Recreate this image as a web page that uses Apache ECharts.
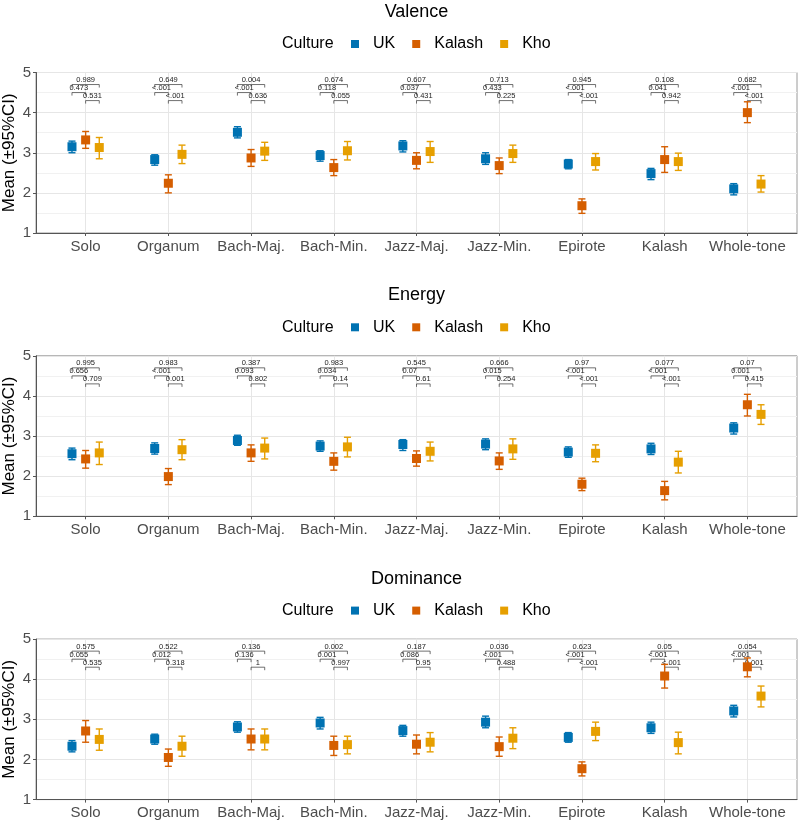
<!DOCTYPE html>
<html>
<head>
<meta charset="utf-8">
<script src="https://cdn.jsdelivr.net/npm/echarts@6/dist/echarts.min.js"></script>
<style>
  html, body { margin: 0; padding: 0; background: #fff; }
  #main { width: 800px; height: 823px; }
</style>
</head>
<body>
<div id="main"></div>
<script type="text/javascript">
// categories and groups
var categories = ['Solo', 'Organum', 'Bach-Maj.', 'Bach-Min.', 'Jazz-Maj.', 'Jazz-Min.', 'Epirote', 'Kalash', 'Whole-tone'];
var cultures = ['UK', 'Kalash', 'Kho'];
var panelNames = ['Valence', 'Energy', 'Dominance'];

// Valence
var valenceUKMean = [3.15, 2.83, 3.51, 2.93, 3.17, 2.85, 2.72, 2.48, 2.10];
var valenceUKLow = [3.00, 2.69, 3.37, 2.79, 3.02, 2.71, 2.60, 2.33, 1.95];
var valenceUKHigh = [3.29, 2.95, 3.65, 3.05, 3.30, 3.00, 2.83, 2.61, 2.23];
var valenceKalashMean = [3.32, 2.24, 2.87, 2.63, 2.81, 2.68, 1.68, 2.83, 4.00];
var valenceKalashLow = [3.11, 2.00, 2.66, 2.43, 2.60, 2.48, 1.49, 2.51, 3.75];
var valenceKalashHigh = [3.53, 2.45, 3.08, 2.83, 3.00, 2.87, 1.85, 3.15, 4.27];
var valenceKhoMean = [3.13, 2.96, 3.04, 3.05, 3.03, 2.98, 2.78, 2.78, 2.22];
var valenceKhoLow = [2.85, 2.73, 2.81, 2.82, 2.76, 2.76, 2.57, 2.56, 2.02];
var valenceKhoHigh = [3.38, 3.19, 3.26, 3.28, 3.28, 3.19, 2.98, 2.99, 2.43];

// Energy
var energyUKMean = [2.56, 2.69, 2.89, 2.75, 2.79, 2.80, 2.60, 2.68, 3.20];
var energyUKLow = [2.41, 2.55, 2.77, 2.62, 2.64, 2.66, 2.47, 2.54, 3.05];
var energyUKHigh = [2.70, 2.83, 3.02, 2.88, 2.91, 2.93, 2.73, 2.82, 3.33];
var energyKalashMean = [2.43, 1.99, 2.58, 2.37, 2.44, 2.38, 1.80, 1.64, 3.78];
var energyKalashLow = [2.20, 1.79, 2.37, 2.15, 2.25, 2.17, 1.64, 1.41, 3.50];
var energyKalashHigh = [2.64, 2.19, 2.78, 2.58, 2.63, 2.58, 1.95, 1.87, 4.04];
var energyKhoMean = [2.58, 2.66, 2.70, 2.73, 2.62, 2.68, 2.57, 2.35, 3.54];
var energyKhoLow = [2.29, 2.41, 2.43, 2.48, 2.38, 2.42, 2.36, 2.08, 3.29];
var energyKhoHigh = [2.85, 2.91, 2.95, 2.97, 2.85, 2.93, 2.78, 2.62, 3.78];

// Dominance
var dominanceUKMean = [2.33, 2.51, 2.81, 2.91, 2.72, 2.93, 2.55, 2.79, 3.21];
var dominanceUKLow = [2.19, 2.38, 2.68, 2.76, 2.58, 2.79, 2.43, 2.65, 3.06];
var dominanceUKHigh = [2.47, 2.63, 2.94, 3.05, 2.85, 3.08, 2.67, 2.93, 3.35];
var dominanceKalashMean = [2.71, 2.05, 2.51, 2.35, 2.38, 2.32, 1.77, 4.08, 4.31];
var dominanceKalashLow = [2.43, 1.83, 2.24, 2.10, 2.14, 2.08, 1.59, 3.78, 4.06];
var dominanceKalashHigh = [2.97, 2.26, 2.76, 2.58, 2.61, 2.56, 1.94, 4.37, 4.53];
var dominanceKhoMean = [2.50, 2.33, 2.51, 2.37, 2.43, 2.53, 2.70, 2.42, 3.58];
var dominanceKhoLow = [2.23, 2.08, 2.24, 2.14, 2.19, 2.27, 2.47, 2.14, 3.31];
var dominanceKhoHigh = [2.76, 2.58, 2.76, 2.58, 2.67, 2.79, 2.93, 2.68, 3.83];

// p-values: UK vs Kho (top), UK vs Kalash (middle), Kalash vs Kho (bottom)
var valencePUKKho = ['0.989', '0.649', '0.004', '0.674', '0.607', '0.713', '0.945', '0.108', '0.682'];
var valencePUKKalash = ['0.473', '<.001', '<.001', '0.118', '0.037', '0.433', '<.001', '0.041', '<.001'];
var valencePKalashKho = ['0.531', '<.001', '0.636', '0.055', '0.431', '0.225', '<.001', '0.942', '<.001'];
var energyPUKKho = ['0.995', '0.983', '0.387', '0.983', '0.545', '0.666', '0.97', '0.077', '0.07'];
var energyPUKKalash = ['0.656', '<.001', '0.093', '0.034', '0.07', '0.015', '<.001', '<.001', '0.001'];
var energyPKalashKho = ['0.709', '0.001', '0.802', '0.14', '0.61', '0.254', '<.001', '<.001', '0.415'];
var dominancePUKKho = ['0.575', '0.522', '0.136', '0.002', '0.187', '0.036', '0.623', '0.05', '0.054'];
var dominancePUKKalash = ['0.055', '0.012', '0.136', '0.001', '0.086', '<.001', '<.001', '<.001', '<.001'];
var dominancePKalashKho = ['0.535', '0.318', '1', '0.997', '0.95', '0.488', '<.001', '<.001', '0.001'];

var yTicks = [1, 2, 3, 4, 5];

var colors = ['#0072B2', '#D55E00', '#E69F00'];
var dodge = [-0.165, 0, 0.165];
var bracketY = [4.70, 4.50, 4.30];
var bracketPairs = [[0, 2], [0, 1], [1, 2]];
var fontFamily = '"Liberation Sans", Arial, Helvetica, sans-serif';

var panels = [
    { means: [valenceUKMean, valenceKalashMean, valenceKhoMean], lows: [valenceUKLow, valenceKalashLow, valenceKhoLow], highs: [valenceUKHigh, valenceKalashHigh, valenceKhoHigh], pvals: [valencePUKKho, valencePUKKalash, valencePKalashKho] },
    { means: [energyUKMean, energyKalashMean, energyKhoMean], lows: [energyUKLow, energyKalashLow, energyKhoLow], highs: [energyUKHigh, energyKalashHigh, energyKhoHigh], pvals: [energyPUKKho, energyPUKKalash, energyPKalashKho] },
    { means: [dominanceUKMean, dominanceKalashMean, dominanceKhoMean], lows: [dominanceUKLow, dominanceKalashLow, dominanceKhoLow], highs: [dominanceUKHigh, dominanceKalashHigh, dominanceKhoHigh], pvals: [dominancePUKKho, dominancePUKKalash, dominancePKalashKho] }
];

var panelStep = 283.3;
var catTicks = categories.map(function (c, i) { return i + 1; });

var titles = [], legends = [], grids = [], xAxes = [], yAxes = [], series = [];

panels.forEach(function (p, k) {
    var off = k * panelStep;
    titles.push({
        text: panelNames[k], left: 416.5, top: 3 + off, textAlign: 'center', padding: 0,
        textStyle: { fontFamily: fontFamily, fontSize: 18, fontWeight: 'normal', color: '#000' }
    });
    titles.push({
        text: 'Culture', left: 282, top: 36 + off, padding: 0,
        textStyle: { fontFamily: fontFamily, fontSize: 16, fontWeight: 'normal', color: '#000' }
    });
    legends.push({
        data: cultures, left: 351, top: 36 + off, padding: 0,
        icon: 'rect', itemWidth: 8, itemHeight: 8, itemGap: 17,
        selectedMode: false,
        textStyle: { fontFamily: fontFamily, fontSize: 16, color: '#000', padding: [0, 0, 0, 9] }
    });
    grids.push({
        left: 36, right: 3, top: 72.5 + off, height: 160.5,
        containLabel: false, outerBoundsMode: 'none',
        show: true, borderColor: '#9a9a9a', borderWidth: 1
    });
    xAxes.push({
        type: 'value', gridIndex: k, min: 0.4, max: 9.6,
        axisLine: { lineStyle: { color: '#555', width: 1 } },
        axisTick: { customValues: catTicks, length: 3, lineStyle: { color: '#555' } },
        axisLabel: {
            customValues: catTicks, margin: 6, color: '#4d4d4d', fontSize: 15, fontFamily: fontFamily,
            formatter: function (v) { return categories[Math.round(v) - 1] || ''; }
        },
        splitLine: { show: true, lineStyle: { color: '#e6e6e6', width: 1 } }
    });
    yAxes.push({
        type: 'value', gridIndex: k, min: 1, max: 5, interval: 1,
        name: 'Mean (\u00b195%CI)', nameLocation: 'middle', nameRotate: 90, nameGap: 18,
        nameMoveOverlap: false,
        nameTextStyle: { fontFamily: fontFamily, fontSize: 17, color: '#000' },
        axisLine: { show: true, lineStyle: { color: '#555', width: 1 } },
        axisTick: { show: true, length: 3, lineStyle: { color: '#555' } },
        axisLabel: { color: '#4d4d4d', fontSize: 15, fontFamily: fontFamily, margin: 5,
            customValues: yTicks },
        splitLine: { lineStyle: { color: '#e6e6e6', width: 1 } },
        minorTick: { show: false, splitNumber: 2 },
        minorSplitLine: { show: true, lineStyle: { color: '#f1f1f1', width: 1 } }
    });

    // significance brackets
    var bracketData = [];
    var bracketLabels = [];
    categories.forEach(function (c, i) {
        for (var b = 0; b < 3; b++) {
            bracketData.push([i + 1, bracketY[b], b]);
            bracketLabels.push(p.pvals[b][i]);
        }
    });
    series.push({
        name: 'brackets' + k, type: 'custom', xAxisIndex: k, yAxisIndex: k,
        silent: true, z: 3, encode: { x: 0, y: 1 },
        data: bracketData,
        renderItem: function (params, api) {
            var cx = api.value(0), y = api.value(1), b = api.value(2);
            var pair = bracketPairs[b];
            var a = api.coord([cx + dodge[pair[0]], y]);
            var e = api.coord([cx + dodge[pair[1]], y]);
            var tip = 3;
            return {
                type: 'group',
                children: [{
                    type: 'polyline',
                    shape: { points: [[a[0], a[1] + tip], [a[0], a[1]], [e[0], e[1]], [e[0], e[1] + tip]] },
                    style: { stroke: '#333', lineWidth: 0.7, fill: null }
                }, {
                    type: 'text',
                    x: (a[0] + e[0]) / 2, y: a[1] - 0.5,
                    style: {
                        text: bracketLabels[params.dataIndex], fontSize: 7.5, fontFamily: fontFamily,
                        fill: '#222', align: 'center', verticalAlign: 'bottom'
                    }
                }]
            };
        }
    });

    // mean + CI for each culture
    cultures.forEach(function (cult, c) {
        var pts = categories.map(function (cat, i) {
            return [i + 1 + dodge[c], p.means[c][i], p.lows[c][i], p.highs[c][i]];
        });
        series.push({
            name: cult, type: 'custom', xAxisIndex: k, yAxisIndex: k, z: 4,
            itemStyle: { color: colors[c] },
            encode: { x: 0, y: [1, 2, 3] },
            data: pts,
            renderItem: function (params, api) {
                var x = api.value(0);
                var m = api.coord([x, api.value(1)]);
                var lo = api.coord([x, api.value(2)]);
                var hi = api.coord([x, api.value(3)]);
                var col = api.visual('color');
                var cap = 3.5, half = 4.5;
                var ls = { stroke: col, lineWidth: 1.4 };
                return {
                    type: 'group',
                    children: [
                        { type: 'line', shape: { x1: m[0], y1: lo[1], x2: m[0], y2: hi[1] }, style: ls },
                        { type: 'line', shape: { x1: m[0] - cap, y1: lo[1], x2: m[0] + cap, y2: lo[1] }, style: ls },
                        { type: 'line', shape: { x1: m[0] - cap, y1: hi[1], x2: m[0] + cap, y2: hi[1] }, style: ls },
                        { type: 'rect', shape: { x: m[0] - half, y: m[1] - half, width: half * 2, height: half * 2 }, style: { fill: col } }
                    ]
                };
            }
        });
    });
});

var myChart = echarts.init(document.getElementById('main'));
var option = {
    backgroundColor: '#fff',
    animation: false,
    title: titles,
    legend: legends,
    grid: grids,
    xAxis: xAxes,
    yAxis: yAxes,
    series: series
};
myChart.setOption(option);
</script>
</body>
</html>
